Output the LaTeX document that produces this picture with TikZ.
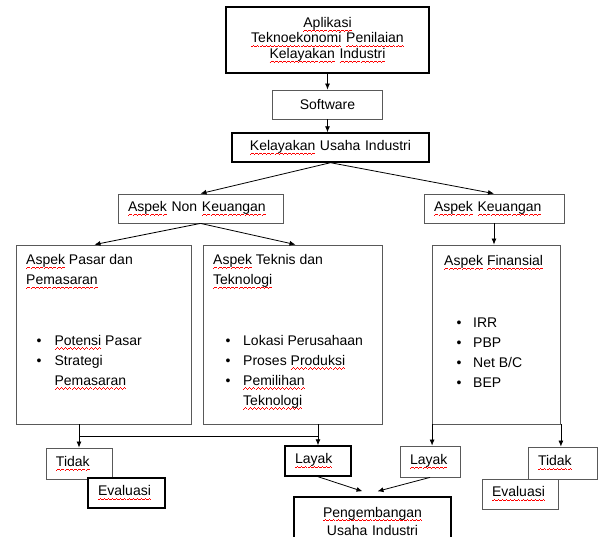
\documentclass[tikz,border=0pt]{standalone}
\usepackage{fontspec}
\setmainfont{Liberation Sans}
\usepackage{xcolor}
\usetikzlibrary{arrows.meta,calc}

% red spell-check wave under a word
\newlength\spellw
\newcommand\waveunit{\hbox{\rule[-4.2pt]{1pt}{0.8pt}\rule[-3.6pt]{1pt}{0.8pt}\rule[-3pt]{1pt}{0.8pt}\rule[-3.6pt]{1pt}{0.8pt}}}
\newcommand\spell[1]{\settowidth\spellw{#1}\leavevmode\rlap{\color{red}\hbox to\spellw{\xleaders\waveunit\hfill}}#1}

\begin{document}
\begin{tikzpicture}[x=1pt,y=-1pt,
    box/.style={draw=black!65, line width=0.8pt, fill=white, inner xsep=10pt, inner ysep=0pt,
        minimum height=30pt, align=left, font=\fontsize{14}{16}\selectfont},
    bold/.style={draw=black, line width=1.4pt},
    frame/.style={draw=black!65, line width=0.8pt, inner sep=0pt},
    txt/.style={inner sep=0pt, align=left, font=\fontsize{14}{20}\selectfont},
    arr/.style={-{Latex[length=6pt,width=5pt]}, line width=0.8pt}]
        \useasboundingbox (0,0) rectangle (603,537);
        \clip (0,0) rectangle (603,537);
        % Top of the tree
        \node[box, bold, align=center, text width=183, minimum height=66,
            font=\fontsize{14}{15.5}\selectfont] (app) at (327.5,40)
            {\spell{Aplikasi}\\ \spell{Teknoekonomi} \spell{Penilaian}\\ \spell{Kelayakan} \spell{Industri}};
        \node[box, align=center, text width=90, minimum height=29] (soft) at (327.5,104.5) {Software};
        \node[box, bold, align=center, text width=177, minimum height=29] (kel) at (330.5,147.5)
            {\spell{Kelayakan} Usaha Industri};
        \draw[arr] (app.south) -- (soft.north);
        \draw[arr] (soft.south) -- (soft.south |- kel.north);

        % Two aspects
        \node[box, text width=145, minimum height=29] (nonkeu) at (200.5,208.5)
            {\spell{Aspek} Non \spell{Keuangan}};
        \node[box, text width=120, minimum height=29] (keu) at (494,208.5)
            {\spell{Aspek} \spell{Keuangan}};
        \draw[arr] (kel.south) -- (nonkeu.north);
        \draw[arr] (kel.south) -- (keu.north);

        % Big boxes
        \node[frame, minimum width=175, minimum height=179] (pasar) at (103.5,334.5) {};
        \node[frame, minimum width=179, minimum height=179] (teknis) at (292.5,334.5) {};
        \node[frame, minimum width=128, minimum height=179] (finan) at (496.5,334.5) {};
        \draw[arr] (nonkeu.south) -- ([xshift=-9pt]pasar.north);
        \draw[arr] (nonkeu.south) -- ([xshift=3pt]teknis.north);
        \draw[arr] (keu.south) -- (keu.south |- finan.north);

        \node[txt, anchor=north west] (pasarT) at (26,254) {\spell{Aspek} Pasar dan\\ \spell{Pemasaran}};
        \node[txt, anchor=north west] (teknisT) at (213,254) {\spell{Aspek} Teknis dan\\ \spell{Teknologi}};
        \node[txt, anchor=north west] (finanT) at (444,255) {\spell{Aspek} \spell{Finansial}};

        \node[txt, anchor=north west] (pasarL) at (36.5,331) {\begin{tabular}{@{}l@{\hspace{13pt}}l@{}}
            \textbullet & \spell{Potensi} Pasar\\
            \textbullet & Strategi\\
             & \spell{Pemasaran}
        \end{tabular}};
        \node[txt, anchor=north west] (teknisL) at (225.5,331) {\begin{tabular}{@{}l@{\hspace{12.6pt}}l@{}}
            \textbullet & Lokasi Perusahaan\\
            \textbullet & Proses \spell{Produksi}\\
            \textbullet & \spell{Pemilihan}\\
             & \spell{Teknologi}
        \end{tabular}};
        \node[txt, anchor=north west] (finanL) at (456.5,313) {\begin{tabular}{@{}l@{\hspace{11.6pt}}l@{}}
            \textbullet & IRR\\
            \textbullet & PBP\\
            \textbullet & Net B/C\\
            \textbullet & BEP
        \end{tabular}};

        % Results
        \node[box, text width=46, minimum height=31] (tidakA) at (79,463.5) {\spell{Tidak}};
        \node[box, bold, text width=57, minimum height=30] (evalA) at (126.5,493) {\spell{Evaluasi}};
        \node[box, bold, text width=46, minimum height=30] (layakA) at (318,461) {\spell{Layak}};
        \node[box, text width=40, minimum height=31] (layakB) at (430,461.5) {\spell{Layak}};
        \node[box, text width=49, minimum height=32] (tidakB) at (562.5,463) {\spell{Tidak}};
        \node[box, text width=56, minimum height=30] (evalB) at (520,494) {\spell{Evaluasi}};
        \node[box, bold, align=center, text width=137, minimum height=48,
            font=\fontsize{14}{18}\selectfont] (peng) at (372.5,521)
            {\spell{Pengembangan}\\ Usaha Industri};

        \draw[arr] (pasar.south -| tidakA.north) -- (tidakA.north);
        \draw[arr] (teknis.south -| layakA.north) -- (layakA.north);
        \coordinate (joinA) at ($(layakA.north)+(0,-9)$);
        \draw[line width=0.8pt] (joinA) -- (joinA -| tidakA.north);
        \draw[arr] (finan.south west) -- (finan.south west |- layakB.north);
        \draw[arr] (finan.south east) -- (finan.south east |- tidakB.north);
        \coordinate (tipA) at ($(peng.north)+(-10,-5)$);
        \coordinate (tipB) at ($(peng.north)+(5,-5)$);
        \draw[arr] (layakA.south) -- (tipA);
        \draw[arr] (layakB.south) -- (tipB);
    \end{tikzpicture}
\end{document}
